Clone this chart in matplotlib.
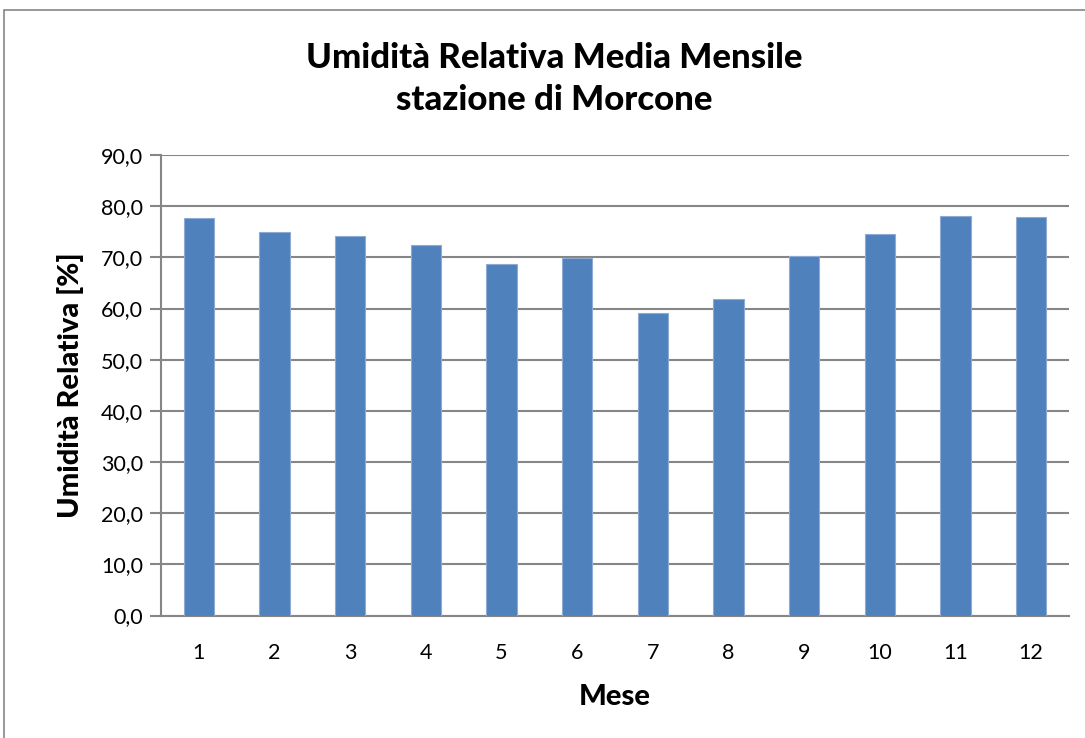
import matplotlib
matplotlib.use("Agg")
import matplotlib.pyplot as plt
from matplotlib.patches import Rectangle

months = [str(m) for m in range(1, 13)]
humidity = [77.6, 74.9, 74.2, 72.5, 68.7, 69.8, 59.1, 61.8, 70.2, 74.5, 78.1, 77.9]
y_ticks = [0, 10, 20, 30, 40, 50, 60, 70, 80, 90]
y_tick_labels = [f"{v:.1f}".replace(".", ",") for v in y_ticks]

title_text = "Umidità Relativa Media Mensile\nstazione di Morcone"
x_label = "Mese"
y_label = "Umidità Relativa [%]"

plt.rcParams["font.family"] = ["Lato", "DejaVu Sans"]

W, H = 1085, 738
fig = plt.figure(figsize=(W / 100, H / 100), dpi=100)

# chart frame
fig.patches.append(Rectangle((4 / W, -0.1), 1.2, (H - 10) / H + 0.1,
                             transform=fig.transFigure, fill=False,
                             edgecolor="#868686", linewidth=1.2))

left, right, top, bottom = 161, 1069, 155, 615.5
ax = fig.add_axes([left / W, 1 - bottom / H, (right - left) / W, (bottom - top) / H])

x = list(range(len(months)))
ax.bar(x, humidity, width=0.4, color="#4F81BD", edgecolor="#8eabd6",
       linewidth=0.8, zorder=3)

ax.set_xlim(-0.5, len(months) - 0.5)
ax.set_ylim(0, 90)
ax.set_yticks(y_ticks)
ax.set_yticklabels(y_tick_labels, fontsize=15.5)
ax.set_xticks(x)
ax.set_xticklabels(months, fontsize=15.5)

ax.grid(axis="y", color="#868686", linewidth=1.5, zorder=1)
for s in ["top", "right"]:
    ax.spines[s].set_visible(False)
for s in ["left", "bottom"]:
    ax.spines[s].set_color("#868686")
    ax.spines[s].set_linewidth(1.5)
ax.tick_params(axis="y", length=8, width=1.5, color="#868686", pad=5)
ax.tick_params(axis="x", length=0, pad=20)

ax.set_xlabel(x_label, fontsize=21, fontweight="black", labelpad=15)
ax.set_ylabel(y_label, fontsize=21, fontweight="black", labelpad=12)

fig.text(554 / W, 1 - 79 / H, title_text, ha="center", va="center",
         fontsize=25, fontweight="black", linespacing=1.42)

fig.savefig("out.png", dpi=100)
